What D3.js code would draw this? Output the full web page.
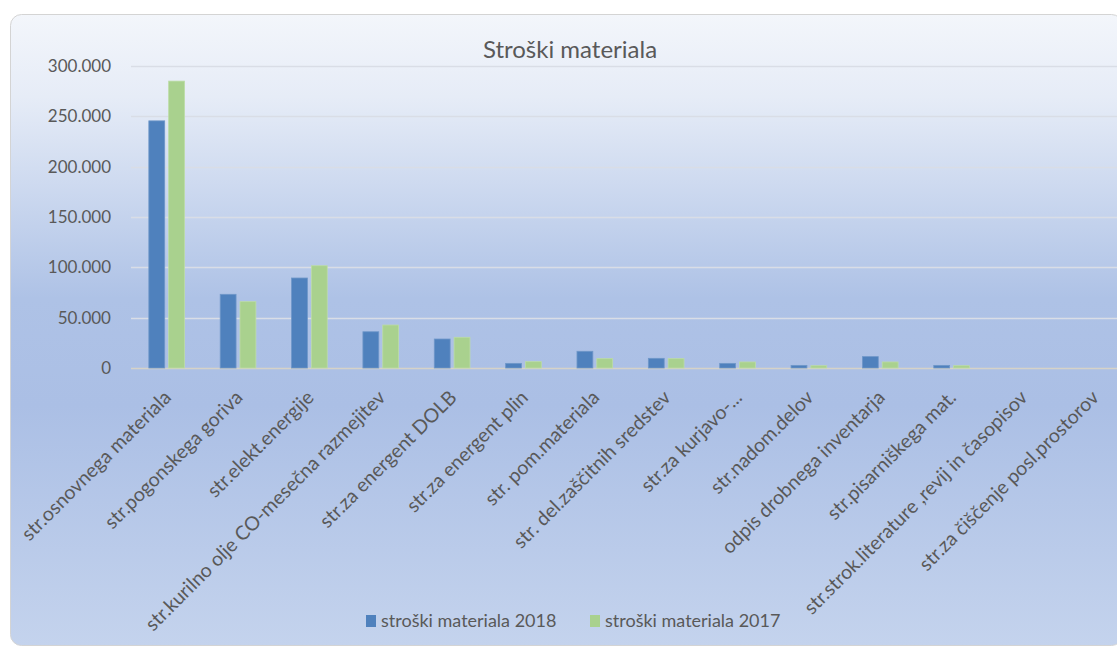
<!DOCTYPE html>
<html>
<head>
<meta charset="utf-8">
<script src="https://cdn.jsdelivr.net/npm/d3@7"></script>
<style>
  html, body { margin: 0; padding: 0; background: #fff; }
  svg { display: block; font-family: Lato, 'Open Sans', sans-serif; }
</style>
</head>
<body>
<svg></svg>
<script>
const categories = [
  'str.osnovnega materiala',
  'str.pogonskega goriva',
  'str.elekt.energije',
  'str.kurilno olje CO-mesečna razmejitev',
  'str.za energent DOLB',
  'str.za energent plin',
  'str. pom.materiala',
  'str. del.zaščitnih sredstev',
  'str.za kurjavo-...',
  'str.nadom.delov',
  'odpis drobnega inventarja',
  'str.pisarniškega mat.',
  'str.strok.literature ,revij in časopisov',
  'str.za čiščenje posl.prostorov'
];
const series = ['stroški materiala 2018', 'stroški materiala 2017'];
const values2018 = [245500, 73200, 89400, 36000, 28800, 4600, 16600, 9600, 4600, 2600, 11300, 2600, 0, 0];
const values2017 = [285000, 65900, 101600, 42700, 30500, 6300, 9300, 9300, 6000, 2300, 6000, 2300, 0, 0];
const yTicks = [0, 50000, 100000, 150000, 200000, 250000, 300000];
const title = 'Stroški materiala';

const w = 1117;
const h = 648;
const svg = d3.select('svg').attr('width', w).attr('height', h);

const colors = ['#4f81bd', '#a9d18e'];
const textColor = '#595959';

// background gradient of the chart box
const grad = svg.append('defs').append('linearGradient')
  .attr('id', 'bg').attr('x1', 0).attr('y1', 0).attr('x2', 0).attr('y2', 1);
[['0%', '#f3f6fb'], ['13%', '#e6ecf7'], ['45%', '#aec2e6'], ['62%', '#abbfe5'], ['100%', '#c4d3ed']]
  .forEach(([o, c]) => grad.append('stop').attr('offset', o).attr('stop-color', c));

// box runs past the right edge, like the cropped original
svg.append('rect')
  .attr('x', 10.5).attr('y', 14.5)
  .attr('width', 1112).attr('height', 631)
  .attr('rx', 11)
  .attr('fill', 'url(#bg)')
  .attr('stroke', '#d4d4d4');

const plotLeft = 131;
const plotRight = 1130;
const yScale = d3.scaleLinear().domain([0, 300000]).range([368, 66]);

const x0 = d3.scaleBand()
  .domain(categories)
  .range([plotLeft, plotRight])
  .paddingInner(0.5)
  .paddingOuter(0.25);

const x1 = d3.scaleBand()
  .domain(series)
  .range([0, x0.bandwidth()])
  .paddingInner(0.2);

const locale = d3.formatLocale({ decimal: ',', thousands: '.', grouping: [3], currency: ['', ' €'] });
const fmt = locale.format(',');

// gridlines
svg.append('g')
  .selectAll('line')
  .data(yTicks)
  .join('line')
  .attr('x1', plotLeft).attr('x2', w)
  .attr('y1', (d) => Math.round(yScale(d)) + 0.5)
  .attr('y2', (d) => Math.round(yScale(d)) + 0.5)
  .attr('stroke', (d) => (d === 0 ? '#d6d2c8' : '#d9dde6'))
  .attr('stroke-width', 1.5);

// y axis labels
const yAxis = d3.axisLeft(yScale).tickValues(yTicks).tickFormat(fmt).tickSize(0).tickPadding(0);
const yG = svg.append('g')
  .attr('transform', `translate(111,0)`)
  .call(yAxis);
yG.select('.domain').remove();
yG.selectAll('text')
  .attr('fill', textColor)
  .style('font-size', '17px')
  .style('font-family', 'Lato, sans-serif');

// bars
const rows = categories.map((c, i) => ({ cat: c, vals: [values2018[i], values2017[i]] }));
svg.append('g')
  .selectAll('g')
  .data(rows)
  .join('g')
  .attr('transform', (d) => `translate(${x0(d.cat)},0)`)
  .selectAll('rect')
  .data((d) => d.vals.map((v, j) => ({ s: series[j], v, j })))
  .join('rect')
  .attr('x', (d) => x1(d.s))
  .attr('y', (d) => yScale(d.v))
  .attr('width', x1.bandwidth())
  .attr('height', (d) => yScale(0) - yScale(d.v))
  .attr('fill', (d) => colors[d.j])
  .attr('stroke', (d) => (d.j === 0 ? '#6f97c9' : '#bcdca6'))
  .attr('stroke-width', 0.8);

// category labels
svg.append('g')
  .selectAll('text')
  .data(categories)
  .join('text')
  .attr('transform', (d) => `translate(${x0(d) + x0.bandwidth() / 2 - 5},388) rotate(-45)`)
  .attr('text-anchor', 'end')
  .attr('dominant-baseline', 'hanging')
  .attr('fill', textColor)
  .style('font-size', '19.5px')
  .text((d) => d);

// title
svg.append('text')
  .attr('x', 570).attr('y', 58)
  .attr('text-anchor', 'middle')
  .attr('fill', textColor)
  .style('font-size', '24px')
  .text(title);

// legend
const legendX = [366, 590];
const legend = svg.append('g')
  .selectAll('g')
  .data(series)
  .join('g')
  .attr('transform', (d, i) => `translate(${legendX[i]},615)`);
legend.append('rect')
  .attr('width', 10).attr('height', 12)
  .attr('fill', (d, i) => colors[i]);
legend.append('text')
  .attr('x', 15).attr('y', 12)
  .attr('fill', textColor)
  .style('font-size', '18px')
  .text((d) => d);
</script>
</body>
</html>
